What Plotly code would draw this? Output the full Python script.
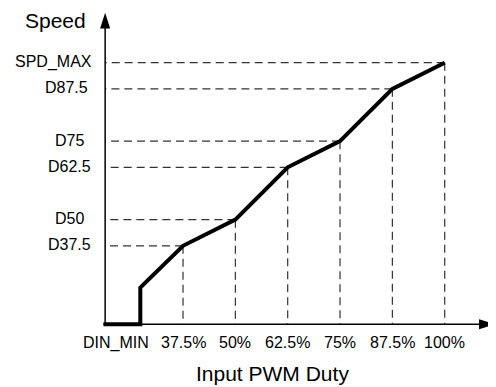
import plotly.graph_objects as go

# duty (%) / speed (% of SPD_MAX) breakpoints
DUTY = [37.5, 50, 62.5, 75, 87.5, 100]
SPEED = [30, 40, 60, 70, 90, 100]
DUTY_LABELS = ["37.5%", "50%", "62.5%", "75%", "87.5%", "100%"]
SPEED_LABELS = ["D37.5", "D50", "D62.5", "D75", "D87.5", "SPD_MAX"]

DIN_MIN = 27.3      # duty where the output jumps on
SPD_MIN = 14.0      # speed right after the jump
ORIGIN_X = 18.9     # where the y axis sits on the duty scale

# page has an 8px body margin, so the figure is 8px smaller and the
# ranges start 8px in
X_RANGE = [-4.30, 112.25]
Y_RANGE = [-23.97, 120.9]
X_END = 112.0       # x-axis arrow tip
Y_END = 119.1       # y-axis arrow tip

FONT = "Liberation Sans, Arial, sans-serif"
DASH_COLOR = "#333333"

fig = go.Figure()

# dashed guide lines: horizontal from the y axis, vertical down to the x axis
gx, gy = [], []
for d, s in zip(DUTY, SPEED):
    gx += [d, ORIGIN_X, None, d, d, None]
    gy += [s, s, None, s, 0, None]
fig.add_trace(go.Scatter(x=gx, y=gy, mode="lines", hoverinfo="skip",
                         line=dict(color=DASH_COLOR, width=1.2, dash="8px,5px")))

# axes
fig.add_shape(type="line", x0=ORIGIN_X - 0.4, y0=0, x1=X_END - 3, y1=0,
              line=dict(color="black", width=1.5))
fig.add_shape(type="line", x0=ORIGIN_X, y0=0, x1=ORIGIN_X, y1=Y_END - 5,
              line=dict(color="black", width=1.5))
fig.add_shape(type="path", fillcolor="black", line=dict(width=0),
              path=f"M {X_END} 0 L {X_END - 3.8} 1.9 L {X_END - 3.8} -1.9 Z")
fig.add_shape(type="path", fillcolor="black", line=dict(width=0),
              path=f"M {ORIGIN_X} {Y_END} L {ORIGIN_X - 1.2} {Y_END - 6} "
                   f"L {ORIGIN_X + 1.2} {Y_END - 6} Z")

# speed curve
cx = [ORIGIN_X - 0.4, DIN_MIN, DIN_MIN] + DUTY
cy = [0, 0, SPD_MIN] + SPEED
fig.add_trace(go.Scatter(x=cx, y=cy, mode="lines", hoverinfo="skip",
                         line=dict(color="black", width=4)))

# tick labels
for d, lab in zip(DUTY, DUTY_LABELS):
    fig.add_annotation(x=d, y=-7.0, text=lab, showarrow=False,
                       xanchor="center", yanchor="middle")
fig.add_annotation(x=21.4, y=-7.0, text="DIN_MIN", showarrow=False,
                   xanchor="center", yanchor="middle")
SPEED_LABEL_X = [10.5, 10.5, 10.5, 10.5, 9.6, 6.45]
for s, lab, lx in zip(SPEED, SPEED_LABELS, SPEED_LABEL_X):
    fig.add_annotation(x=lx, y=s + 0.4, text=lab, showarrow=False,
                       xanchor="center", yanchor="middle")

# axis titles
fig.add_annotation(x=6.93, y=1.0, yref="paper", text="Speed", showarrow=False,
                   font=dict(size=21), xanchor="center", yanchor="top",
                   borderpad=0)
fig.add_annotation(x=58.87, y=-18.9, text="Input PWM Duty", showarrow=False,
                   font=dict(size=21), xanchor="center", yanchor="middle")

fig.update_layout(
    width=488, height=379,
    margin=dict(l=0, r=0, t=0, b=0),
    paper_bgcolor="white", plot_bgcolor="white",
    font=dict(family=FONT, size=16, color="black"),
    showlegend=False,
    xaxis=dict(range=X_RANGE, visible=False, fixedrange=True),
    yaxis=dict(range=Y_RANGE, visible=False, fixedrange=True),
)

fig.write_html("out.html", config={"displayModeBar": False})
